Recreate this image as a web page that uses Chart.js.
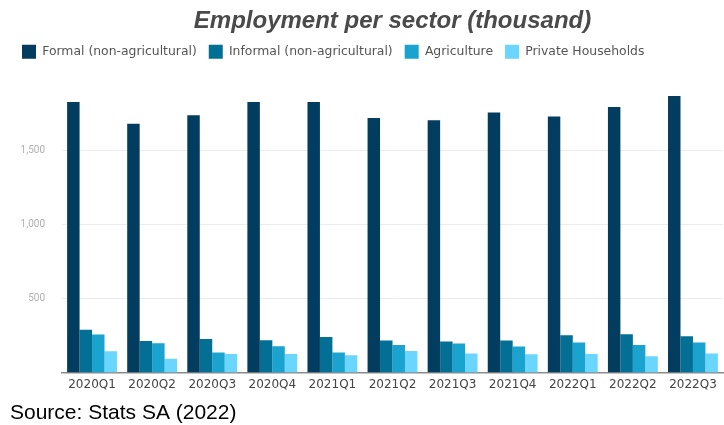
<!DOCTYPE html>
<html>
<head>
<meta charset="utf-8">
<script src="https://cdn.jsdelivr.net/npm/chart.js@4"></script>
<style>
  html, body { margin: 0; padding: 0; background: #fff; }
  #wrap { width: 724px; height: 425px; }
</style>
</head>
<body>
<div id="wrap"><canvas id="myChart" width="724" height="425"></canvas></div>
<script>
  // data (thousands)
  const quarters = ['2020Q1', '2020Q2', '2020Q3', '2020Q4', '2021Q1', '2021Q2',
                    '2021Q3', '2021Q4', '2022Q1', '2022Q2', '2022Q3'];
  const formal      = [1828, 1680, 1738, 1828, 1828, 1720, 1705, 1757, 1730, 1794, 1868];
  const informal    = [289, 213, 226, 217, 240, 215, 209, 215, 251, 258, 244];
  const agriculture = [256, 197, 135, 177, 135, 186, 195, 175, 202, 186, 202];
  const households  = [143, 92, 125, 125, 116, 145, 128, 123, 125, 110, 128];
  const yTicks = [500, 1000, 1500];

  const seriesNames = ['Formal (non-agricultural)', 'Informal (non-agricultural)',
                       'Agriculture', 'Private Households'];
  const colors = ['#023d60', '#046f95', '#1ba3d0', '#6bd6fd'];

  const data = {
    labels: quarters,
    datasets: [formal, informal, agriculture, households].map((vals, i) => ({
      label: seriesNames[i],
      data: vals,
      backgroundColor: colors[i],
      borderWidth: 0,
      barPercentage: 1.0,
      categoryPercentage: 0.83
    }))
  };

  const config = {
    type: 'bar',
    data,
    options: {
      responsive: false,
      animation: false,
      layout: { padding: { left: 10, right: 1, top: 0, bottom: 0 } },
      scales: {
        y: {
          min: 0,
          max: 2052,
          afterBuildTicks: (scale) => {
            scale.ticks = yTicks.map(v => ({ value: v }));
          },
          afterFit: (scale) => { scale.width = 52; },
          border: { display: false },
          grid: { color: '#ececec', lineWidth: 1, drawTicks: false },
          ticks: {
            padding: 17,
            color: '#b0b0b0',
            font: { family: 'Roboto', size: 10 },
            callback: (v) => v.toLocaleString('en-US')
          }
        },
        x: {
          border: { display: true, color: '#8c8c8c', width: 1.5 },
          grid: { display: false, drawTicks: false },
          ticks: {
            padding: 5,
            color: '#444',
            font: { family: 'DejaVu Sans', size: 12 },
            maxRotation: 0
          }
        }
      },
      plugins: {
        title: {
          display: true,
          text: 'Employment per sector (thousand)',
          fullSize: false,
          color: '#4a4a4a',
          font: { family: 'Liberation Sans', size: 24, style: 'italic', weight: 'bold' },
          padding: { top: 7, bottom: -3 }
        },
        legend: {
          align: 'start',
          labels: {
            boxWidth: 14,
            boxHeight: 14,
            padding: 12,
            color: '#555',
            font: { family: 'DejaVu Sans', size: 12.4 }
          }
        },
        subtitle: {
          display: true,
          position: 'bottom',
          align: 'start',
          text: 'Source: Stats SA (2022)',
          color: '#000',
          font: { family: 'Liberation Sans', size: 21 },
          padding: { top: 4, bottom: -1 }
        },
        tooltip: { enabled: false }
      }
    }
  };

  // render init block
  const myChart = new Chart(
    document.getElementById('myChart'),
    config
  );
</script>
</body>
</html>
